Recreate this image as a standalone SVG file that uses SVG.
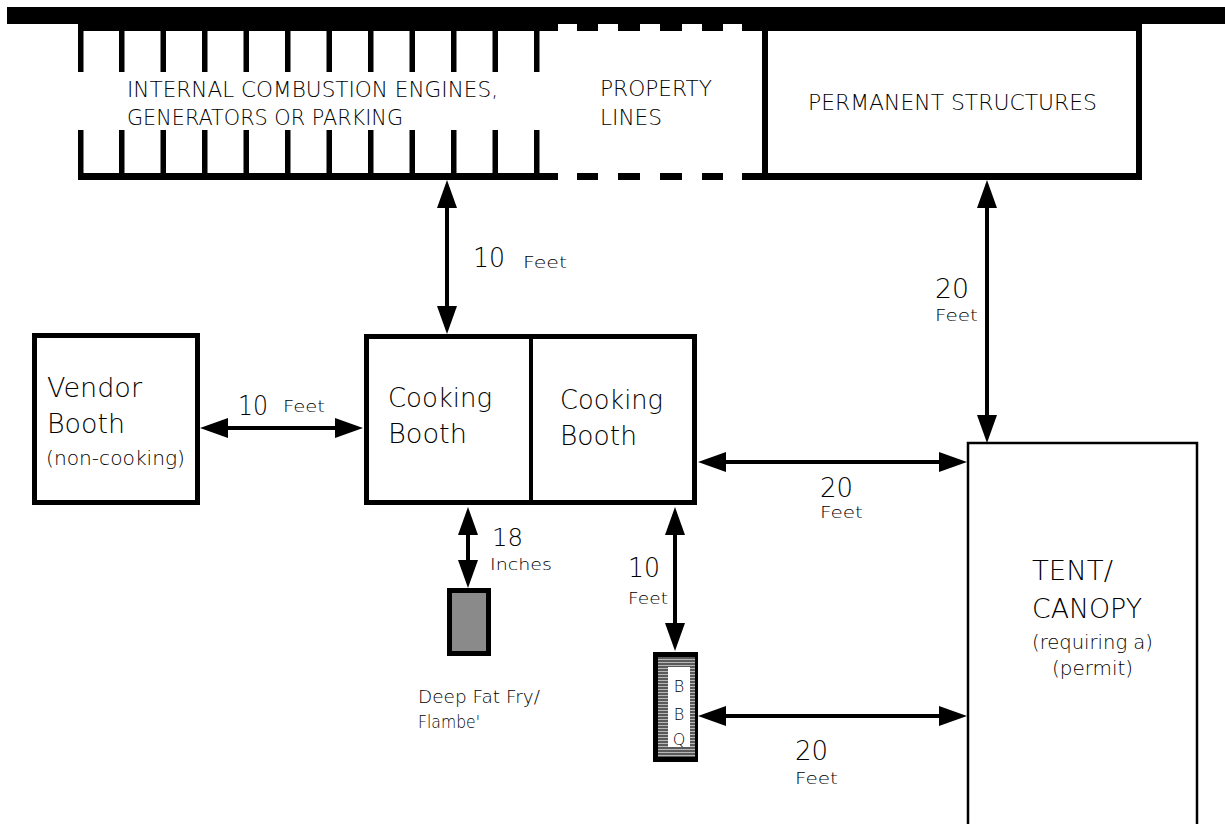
<svg xmlns="http://www.w3.org/2000/svg" width="1225" height="824" viewBox="0 0 1225 824">
<style>
text{font-family:"DejaVu Sans","Liberation Sans",Arial,sans-serif;font-weight:200;fill:#000;}
.cap{font-size:21px;}
.big{font-size:27px;}
.num{font-size:26px;}
.sm{font-size:16px;}
.par{font-size:19px;}
.box{fill:#fff;stroke:#000;stroke-width:5;}
.arr{stroke:#000;stroke-width:4;fill:none;marker-start:url(#ah);marker-end:url(#ah);}
</style>
<defs>
<marker id="ah" markerUnits="userSpaceOnUse" markerWidth="28" markerHeight="20" refX="22" refY="10" orient="auto-start-reverse" viewBox="0 0 28 20">
<path d="M0,0 L28,10 L0,20 Z" fill="#000"/>
</marker>
<pattern id="stripes" patternUnits="userSpaceOnUse" width="4" height="3">
<rect width="4" height="2" fill="#5a5a5a"/>
<rect y="2" width="4" height="1" fill="#b8b8b8"/>
</pattern>
</defs>
<rect width="1225" height="824" fill="#fff"/>

<g id="boundary">
<rect x="7" y="7" width="1218" height="17" fill="#000"/>
<rect x="78" y="23" width="480" height="8" fill="#000"/>
<rect x="742" y="23" width="400" height="8" fill="#000"/>
<rect x="78" y="173" width="480" height="7" fill="#000"/>
<rect x="742" y="173" width="400" height="7" fill="#000"/>
<g fill="#000">
<rect x="577" y="23" width="21" height="8"/><rect x="618" y="23" width="22" height="8"/><rect x="660" y="23" width="22" height="8"/><rect x="702" y="23" width="21" height="8"/>
<rect x="577" y="173" width="21" height="7"/><rect x="618" y="173" width="22" height="7"/><rect x="660" y="173" width="22" height="7"/><rect x="702" y="173" width="21" height="7"/>
</g>
</g>

<g id="engines">
<g fill="#000">
<rect x="78" y="31" width="5.5" height="41"/><rect x="119" y="31" width="5.5" height="41"/><rect x="160.5" y="31" width="5.5" height="41"/><rect x="202" y="31" width="5.5" height="41"/><rect x="243.5" y="31" width="5.5" height="41"/><rect x="285" y="31" width="5.5" height="41"/><rect x="326.5" y="31" width="5.5" height="41"/><rect x="368" y="31" width="5.5" height="41"/><rect x="409.5" y="31" width="5.5" height="41"/><rect x="451" y="31" width="5.5" height="41"/><rect x="492.5" y="31" width="5.5" height="41"/><rect x="534" y="31" width="5.5" height="41"/>
<rect x="78" y="130" width="5.5" height="43"/><rect x="119" y="130" width="5.5" height="43"/><rect x="160.5" y="130" width="5.5" height="43"/><rect x="202" y="130" width="5.5" height="43"/><rect x="243.5" y="130" width="5.5" height="43"/><rect x="285" y="130" width="5.5" height="43"/><rect x="326.5" y="130" width="5.5" height="43"/><rect x="368" y="130" width="5.5" height="43"/><rect x="409.5" y="130" width="5.5" height="43"/><rect x="451" y="130" width="5.5" height="43"/><rect x="492.5" y="130" width="5.5" height="43"/><rect x="534" y="130" width="5.5" height="43"/>
</g>
<text class="cap" x="127" y="97" textLength="371" lengthAdjust="spacingAndGlyphs">INTERNAL COMBUSTION ENGINES,</text>
<text class="cap" x="127" y="125" textLength="276" lengthAdjust="spacingAndGlyphs">GENERATORS OR PARKING</text>
</g>

<g id="property-lines">
<text class="cap" x="600" y="96" textLength="112" lengthAdjust="spacingAndGlyphs">PROPERTY</text>
<text class="cap" x="600" y="125" textLength="62" lengthAdjust="spacingAndGlyphs">LINES</text>
</g>

<g id="permanent-structures">
<rect x="762" y="31" width="6" height="142" fill="#000"/>
<rect x="1136" y="31" width="6" height="142" fill="#000"/>
<text class="cap" x="808" y="110" textLength="289" lengthAdjust="spacingAndGlyphs">PERMANENT STRUCTURES</text>
</g>

<g id="vendor-booth">
<rect class="box" x="34.5" y="335.5" width="163" height="167"/>
<text class="big" x="47" y="397" textLength="95" lengthAdjust="spacingAndGlyphs">Vendor</text>
<text class="big" x="47" y="433" textLength="78" lengthAdjust="spacingAndGlyphs">Booth</text>
<text class="par" x="46" y="465" textLength="139" lengthAdjust="spacingAndGlyphs">(non-cooking)</text>
</g>

<g id="cooking-booths">
<rect class="box" x="366.5" y="336.5" width="328" height="166"/>
<line x1="531" y1="336" x2="531" y2="503" stroke="#000" stroke-width="4"/>
<text class="big" x="388" y="407" textLength="104" lengthAdjust="spacingAndGlyphs">Cooking</text>
<text class="big" x="388" y="443" textLength="79" lengthAdjust="spacingAndGlyphs">Booth</text>
<text class="big" x="560" y="409" textLength="103" lengthAdjust="spacingAndGlyphs">Cooking</text>
<text class="big" x="560" y="445" textLength="77" lengthAdjust="spacingAndGlyphs">Booth</text>
</g>

<g id="tent-canopy">
<rect x="968" y="443" width="229" height="400" fill="#fff" stroke="#000" stroke-width="2.5"/>
<text class="big" x="1032" y="580" textLength="81" lengthAdjust="spacingAndGlyphs">TENT/</text>
<text class="big" x="1032" y="618" textLength="110" lengthAdjust="spacingAndGlyphs">CANOPY</text>
<text class="par" x="1032" y="649" textLength="121" lengthAdjust="spacingAndGlyphs">(requiring a)</text>
<text class="par" x="1052" y="675" textLength="81" lengthAdjust="spacingAndGlyphs">(permit)</text>
</g>

<g id="deep-fat-fry">
<rect x="449.5" y="590.5" width="39" height="63" fill="#8a8a8a" stroke="#000" stroke-width="5"/>
<text x="418" y="703" font-size="17" textLength="122" lengthAdjust="spacingAndGlyphs">Deep Fat Fry/</text>
<text x="418" y="728" font-size="17" textLength="62" lengthAdjust="spacingAndGlyphs">Flambe'</text>
</g>

<g id="bbq">
<rect x="653" y="652" width="45" height="110" fill="#000"/>
<rect x="658" y="657" width="37" height="100" fill="url(#stripes)"/>
<rect x="668" y="667" width="22" height="80" fill="#fff"/>
<text x="679" y="692" font-size="16" text-anchor="middle">B</text>
<text x="679" y="720" font-size="16" text-anchor="middle">B</text>
<text x="679" y="745" font-size="16" text-anchor="middle">Q</text>
</g>

<g id="connectors">
<line class="arr" x1="447" y1="186" x2="447" y2="328"/>
<line class="arr" x1="987" y1="186" x2="987" y2="437"/>
<line class="arr" x1="206" y1="428" x2="357" y2="428"/>
<line class="arr" x1="704" y1="462" x2="961" y2="462"/>
<line class="arr" x1="468" y1="513" x2="468" y2="582"/>
<line class="arr" x1="675" y1="513" x2="675" y2="645"/>
<line class="arr" x1="704" y1="716" x2="961" y2="716"/>
</g>

<g id="labels">
<text class="num" x="473" y="267" textLength="32" lengthAdjust="spacingAndGlyphs">10</text>
<text class="sm" x="523" y="268" textLength="44" lengthAdjust="spacingAndGlyphs">Feet</text>
<text class="num" x="238" y="415" textLength="30" lengthAdjust="spacingAndGlyphs">10</text>
<text class="sm" x="283" y="412" textLength="42" lengthAdjust="spacingAndGlyphs">Feet</text>
<text class="num" x="935" y="298" textLength="34" lengthAdjust="spacingAndGlyphs">20</text>
<text class="sm" x="935" y="321" textLength="43" lengthAdjust="spacingAndGlyphs">Feet</text>
<text class="num" x="820" y="497" textLength="33" lengthAdjust="spacingAndGlyphs">20</text>
<text class="sm" x="820" y="518" textLength="43" lengthAdjust="spacingAndGlyphs">Feet</text>
<text x="492" y="546" font-size="24" textLength="31" lengthAdjust="spacingAndGlyphs">18</text>
<text x="490" y="570" font-size="15" textLength="62" lengthAdjust="spacingAndGlyphs">Inches</text>
<text class="num" x="628" y="577" textLength="32" lengthAdjust="spacingAndGlyphs">10</text>
<text class="sm" x="628" y="604" textLength="40" lengthAdjust="spacingAndGlyphs">Feet</text>
<text class="num" x="795" y="760" textLength="33" lengthAdjust="spacingAndGlyphs">20</text>
<text class="sm" x="795" y="784" textLength="43" lengthAdjust="spacingAndGlyphs">Feet</text>
</g>
</svg>
